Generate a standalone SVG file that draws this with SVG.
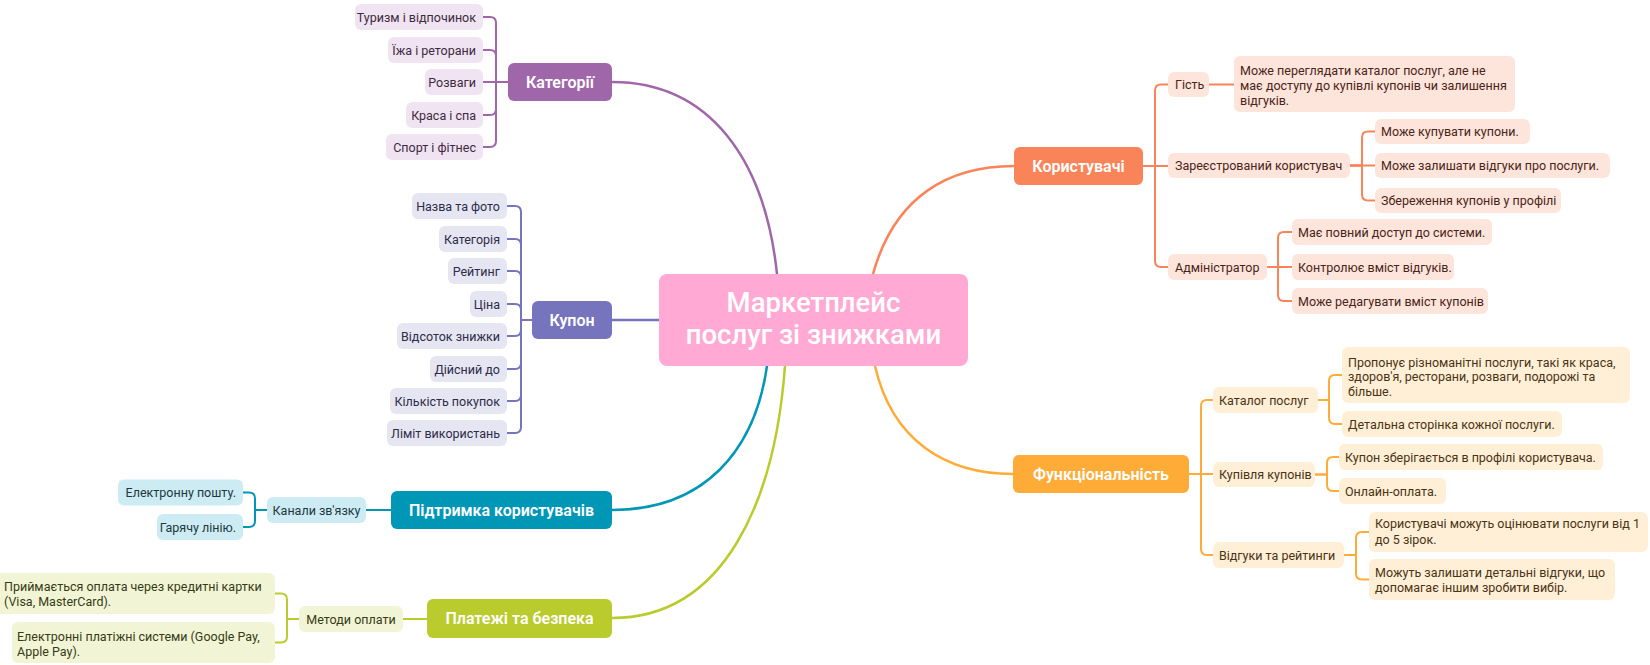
<svg xmlns="http://www.w3.org/2000/svg" width="1650" height="665" viewBox="0 0 1650 665">
<style>
text{font-family:Roboto,"Noto Sans","Liberation Sans",sans-serif}
.c{font-size:12.5px}
.e{text-anchor:end}
.m{text-anchor:middle}
.b{font-size:16px;font-weight:600;fill:#fff;text-anchor:middle}
.ln{fill:none;stroke-width:2;stroke-linecap:round;stroke-linejoin:round}
.main{fill:none;stroke-width:2.5;stroke-linecap:round}
.pu{stroke:#A066AA}.vi{stroke:#7574BC}.bl{stroke:#0097B7}.gr{stroke:#B9CB2D}.or{stroke:#FA8459}.ye{stroke:#FFAB38}
.fpu{fill:#F0E4F2}.fvi{fill:#E6E6F3}.fbl{fill:#CDEBF2}.fgr{fill:#F1F5D6}.for{fill:#FEE5DB}.fye{fill:#FFEFD7}
.tpu{fill:#3D2A40}.tvi{fill:#2D2C48}.tbl{fill:#1D3840}.tgr{fill:#363B14}.tor{fill:#4A2418}.tye{fill:#4A3313}
</style>
<g id="connectors">
<path class="main pu" d="M612,82 C710,82 765,160 777,274"/>
<path class="main vi" d="M612,320 H659"/>
<path class="main bl" d="M612,510 C705,510 755,450 767,366"/>
<path class="main gr" d="M612,618 C725,618 775,500 785,366"/>
<path class="main or" d="M873,274 C895,195 950,166 1014,166"/>
<path class="main ye" d="M875,366 C892,440 945,474 1013,474"/>
<g class="ln pu">
<path d="M508,82 H496 V23 Q496,17 490,17 H483"/>
<path d="M508,82 H496 V56 Q496,50 490,50 H483"/>
<path d="M508,82 H483"/>
<path d="M508,82 H496 V109 Q496,115 490,115 H483"/>
<path d="M508,82 H496 V141 Q496,147 490,147 H483"/>
</g>
<g class="ln vi">
<path d="M532,320 H521 V212 Q521,206 515,206 H507"/>
<path d="M532,320 H521 V245 Q521,239 515,239 H507"/>
<path d="M532,320 H521 V277 Q521,271 515,271 H507"/>
<path d="M532,320 H521 V310 Q521,304 515,304 H507"/>
<path d="M532,320 H521 V330 Q521,336 515,336 H507"/>
<path d="M532,320 H521 V363 Q521,369 515,369 H507"/>
<path d="M532,320 H521 V395 Q521,401 515,401 H507"/>
<path d="M532,320 H521 V427 Q521,433 515,433 H507"/>
</g>
<g class="ln bl">
<path d="M391,510 H366"/>
<path d="M267,510 H255 V498.5 Q255,492.5 249,492.5 H243"/>
<path d="M267,510 H255 V521 Q255,527 249,527 H243"/>
</g>
<g class="ln gr">
<path d="M427,619 H403"/>
<path d="M299,619 H287 V599.5 Q287,593.5 281,593.5 H275"/>
<path d="M299,619 H287 V636.5 Q287,642.5 281,642.5 H275"/>
</g>
<g class="ln or">
<path d="M1143,166 H1155 V90.5 Q1155,84.5 1161,84.5 H1168"/>
<path d="M1143,166 H1168"/>
<path d="M1143,166 H1155 V261 Q1155,267 1161,267 H1168"/>
<path d="M1209,84.5 H1234"/>
<path d="M1350,165.5 H1362 V137.5 Q1362,131.5 1368,131.5 H1375"/>
<path d="M1350,165.5 H1375"/>
<path d="M1350,165.5 H1362 V194.5 Q1362,200.5 1368,200.5 H1375"/>
<path d="M1267,267 H1278 V238 Q1278,232 1284,232 H1292"/>
<path d="M1267,267 H1292"/>
<path d="M1267,267 H1278 V295 Q1278,301 1284,301 H1292"/>
</g>
<g class="ln ye">
<path d="M1189,474 H1201 V406 Q1201,400 1207,400 H1213"/>
<path d="M1189,474 H1213"/>
<path d="M1189,474 H1201 V549 Q1201,555 1207,555 H1213"/>
<path d="M1318,400 H1329 V381 Q1329,375 1335,375 H1342"/>
<path d="M1318,400 H1329 V418 Q1329,424 1335,424 H1342"/>
<path d="M1315,474.5 H1327 V463 Q1327,457 1333,457 H1339"/>
<path d="M1315,474.5 H1327 V485 Q1327,491 1333,491 H1339"/>
<path d="M1344,555 H1356 V538 Q1356,532 1362,532 H1369"/>
<path d="M1344,555 H1356 V573.5 Q1356,579.5 1362,579.5 H1369"/>
</g>
</g>

<g id="center">
<rect x="659" y="274" width="309" height="92" rx="8" fill="#FFA9D4"/>
<text x="813.5" y="311.5" font-size="27.5" font-weight="500" fill="#fff" text-anchor="middle">Маркетплейс</text>
<text x="813.5" y="343.5" font-size="27.5" font-weight="500" fill="#fff" text-anchor="middle">послуг зі знижками</text>
</g>

<g id="categories">
<rect x="508" y="63" width="104" height="38" rx="6" fill="#A066AA"/>
<text class="b" x="560" y="87.5">Категорії</text>
</g>
<g id="cat-1"><rect class="fpu" x="355" y="4" width="128" height="26" rx="6"/><text class="c e tpu" x="476" y="21.5">Туризм і відпочинок</text></g>
<g id="cat-2"><rect class="fpu" x="388" y="37" width="95" height="26" rx="6"/><text class="c e tpu" x="476" y="54.5">Їжа і реторани</text></g>
<g id="cat-3"><rect class="fpu" x="425" y="69" width="58" height="26" rx="6"/><text class="c e tpu" x="476" y="86.5">Розваги</text></g>
<g id="cat-4"><rect class="fpu" x="406" y="102" width="77" height="26" rx="6"/><text class="c e tpu" x="476" y="119.5">Краса і спа</text></g>
<g id="cat-5"><rect class="fpu" x="386" y="134" width="97" height="26" rx="6"/><text class="c e tpu" x="476" y="151.5">Спорт і фітнес</text></g>

<g id="coupon">
<rect x="532" y="301" width="80" height="38" rx="6" fill="#7574BC"/>
<text class="b" x="572" y="325.5">Купон</text>
</g>
<g id="cp-1"><rect class="fvi" x="412" y="193" width="95" height="26" rx="6"/><text class="c e tvi" x="500" y="210.5">Назва та фото</text></g>
<g id="cp-2"><rect class="fvi" x="439" y="226" width="68" height="26" rx="6"/><text class="c e tvi" x="500" y="243.5">Категорія</text></g>
<g id="cp-3"><rect class="fvi" x="448" y="258" width="59" height="26" rx="6"/><text class="c e tvi" x="500" y="275.5">Рейтинг</text></g>
<g id="cp-4"><rect class="fvi" x="470" y="291" width="37" height="26" rx="6"/><text class="c e tvi" x="500" y="308.5">Ціна</text></g>
<g id="cp-5"><rect class="fvi" x="397" y="323" width="110" height="26" rx="6"/><text class="c e tvi" x="500" y="340.5">Відсоток знижки</text></g>
<g id="cp-6"><rect class="fvi" x="430" y="356" width="77" height="26" rx="6"/><text class="c e tvi" x="500" y="373.5">Дійсний до</text></g>
<g id="cp-7"><rect class="fvi" x="390" y="388" width="117" height="26" rx="6"/><text class="c e tvi" x="500" y="405.5">Кількість покупок</text></g>
<g id="cp-8"><rect class="fvi" x="387" y="420" width="120" height="26" rx="6"/><text class="c e tvi" x="500" y="437.5">Ліміт використань</text></g>

<g id="support">
<rect x="391" y="491" width="221" height="38" rx="6" fill="#0097B7"/>
<text class="b" x="501.5" y="515.5">Підтримка користувачів</text>
</g>
<g id="sp-channels"><rect class="fbl" x="267" y="497" width="99" height="26" rx="6"/><text class="c m tbl" x="316.5" y="514.5">Канали зв'язку</text></g>
<g id="sp-1"><rect class="fbl" x="118" y="479.5" width="125" height="26" rx="6"/><text class="c e tbl" x="236" y="497">Електронну пошту.</text></g>
<g id="sp-2"><rect class="fbl" x="157" y="514" width="86" height="26" rx="6"/><text class="c e tbl" x="236" y="531.5">Гарячу лінію.</text></g>

<g id="payments">
<rect x="427" y="599" width="185" height="39" rx="6" fill="#B9CB2D"/>
<text class="b" x="519.5" y="624">Платежі та безпека</text>
</g>
<g id="pay-methods"><rect class="fgr" x="299" y="606" width="104" height="26" rx="6"/><text class="c m tgr" x="351" y="623.5">Методи оплати</text></g>
<g id="pay-1"><rect class="fgr" x="-6" y="573" width="281" height="41" rx="6"/><text class="c tgr" x="4" y="591">Приймається оплата через кредитні картки</text><text class="c tgr" x="4" y="606">(Visa, MasterCard).</text></g>
<g id="pay-2"><rect class="fgr" x="12" y="622" width="263" height="41" rx="6"/><text class="c tgr" x="17" y="641">Електронні платіжні системи (Google Pay,</text><text class="c tgr" x="17" y="656">Apple Pay).</text></g>

<g id="users">
<rect x="1014" y="147" width="129" height="38" rx="6" fill="#FA8459"/>
<text class="b" x="1078.5" y="171.5">Користувачі</text>
</g>
<g id="u-guest"><rect class="for" x="1168" y="72" width="41" height="25" rx="6"/><text class="c tor" x="1175" y="89">Гість</text></g>
<g id="u-guest-1"><rect class="for" x="1234" y="56" width="281" height="56" rx="6"/><text class="c tor" x="1240" y="74.5">Може переглядати каталог послуг, але не</text><text class="c tor" x="1240" y="89.5">має доступу до купівлі купонів чи залишення</text><text class="c tor" x="1240" y="104.5">відгуків.</text></g>
<g id="u-reg"><rect class="for" x="1168" y="153" width="182" height="25" rx="6"/><text class="c tor" x="1175" y="170">Зареєстрований користувач</text></g>
<g id="u-reg-1"><rect class="for" x="1375" y="119" width="155" height="25" rx="6"/><text class="c tor" x="1381" y="136">Може купувати купони.</text></g>
<g id="u-reg-2"><rect class="for" x="1375" y="153" width="235" height="25" rx="6"/><text class="c tor" x="1381" y="170">Може залишати відгуки про послуги.</text></g>
<g id="u-reg-3"><rect class="for" x="1375" y="188" width="186" height="25" rx="6"/><text class="c tor" x="1381" y="205">Збереження купонів у профілі</text></g>
<g id="u-admin"><rect class="for" x="1168" y="254" width="99" height="26" rx="6"/><text class="c tor" x="1175" y="271.5">Адміністратор</text></g>
<g id="u-admin-1"><rect class="for" x="1292" y="219" width="200" height="26" rx="6"/><text class="c tor" x="1298" y="236.5">Має повний доступ до системи.</text></g>
<g id="u-admin-2"><rect class="for" x="1292" y="254" width="162" height="26" rx="6"/><text class="c tor" x="1298" y="271.5">Контролює вміст відгуків.</text></g>
<g id="u-admin-3"><rect class="for" x="1292" y="288" width="196" height="26" rx="6"/><text class="c tor" x="1298" y="305.5">Може редагувати вміст купонів</text></g>

<g id="functionality">
<rect x="1013" y="455" width="176" height="38" rx="6" fill="#FFAB38"/>
<text class="b" x="1101" y="479.5">Функціональність</text>
</g>
<g id="f-cat"><rect class="fye" x="1213" y="387" width="105" height="26" rx="6"/><text class="c tye" x="1219" y="404.5">Каталог послуг</text></g>
<g id="f-cat-1"><rect class="fye" x="1342" y="347" width="288" height="56" rx="6"/><text class="c tye" x="1348" y="366.5">Пропонує різноманітні послуги, такі як краса,</text><text class="c tye" x="1348" y="381">здоров'я, ресторани, розваги, подорожі та</text><text class="c tye" x="1348" y="395.5">більше.</text></g>
<g id="f-cat-2"><rect class="fye" x="1342" y="411" width="220" height="26" rx="6"/><text class="c tye" x="1348" y="428.5">Детальна сторінка кожної послуги.</text></g>
<g id="f-buy"><rect class="fye" x="1213" y="462" width="102" height="25" rx="6"/><text class="c tye" x="1219" y="479">Купівля купонів</text></g>
<g id="f-buy-1"><rect class="fye" x="1339" y="444" width="264" height="26" rx="6"/><text class="c tye" x="1345" y="461.5">Купон зберігається в профілі користувача.</text></g>
<g id="f-buy-2"><rect class="fye" x="1339" y="478" width="107" height="26" rx="6"/><text class="c tye" x="1345" y="495.5">Онлайн-оплата.</text></g>
<g id="f-rev"><rect class="fye" x="1213" y="542" width="131" height="26" rx="6"/><text class="c tye" x="1219" y="559.5">Відгуки та рейтинги</text></g>
<g id="f-rev-1"><rect class="fye" x="1369" y="512" width="279" height="40" rx="6"/><text class="c tye" x="1375" y="527.5">Користувачі можуть оцінювати послуги від 1</text><text class="c tye" x="1375" y="543.5">до 5 зірок.</text></g>
<g id="f-rev-2"><rect class="fye" x="1369" y="559" width="246" height="41" rx="6"/><text class="c tye" x="1375" y="576.5">Можуть залишати детальні відгуки, що</text><text class="c tye" x="1375" y="591.5">допомагає іншим зробити вибір.</text></g>
</svg>
